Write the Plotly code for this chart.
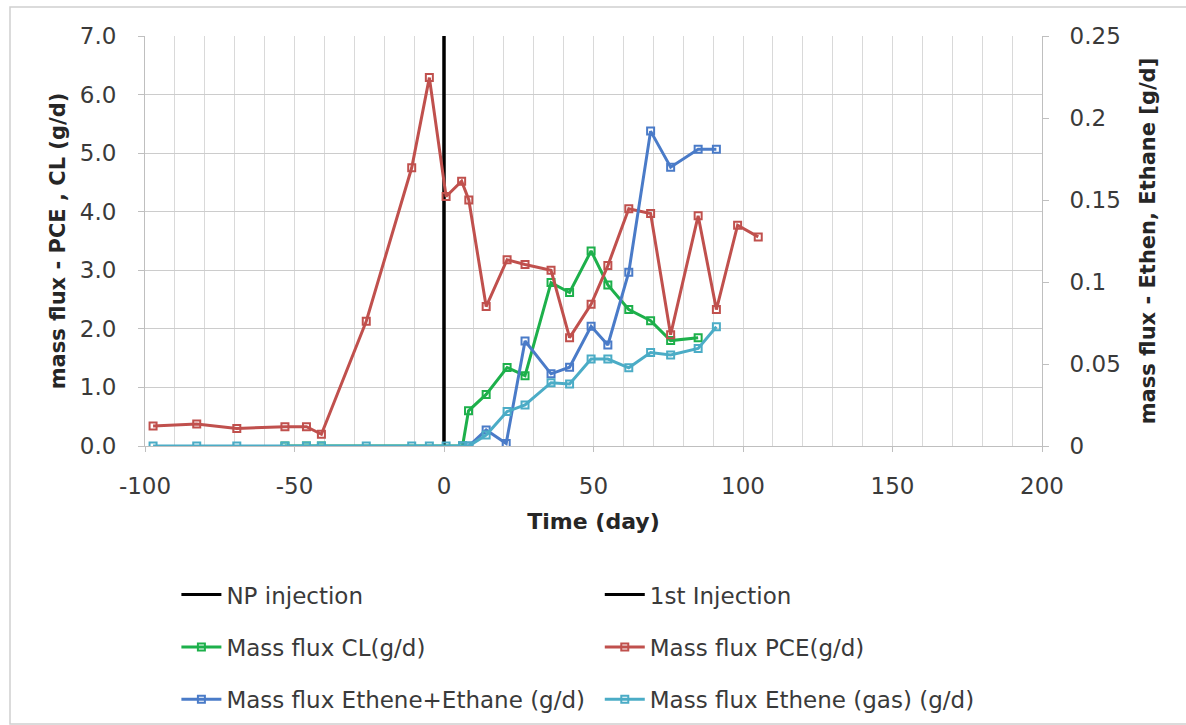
import plotly.graph_objects as go

# ---- data ----
pce_day = [-97.3, -82.7, -69.3, -53.2, -46.0, -41.0, -26.0, -10.8, -4.9, 0.7, 5.9, 8.3, 14.1, 21.1, 27.1, 35.8, 42.0, 49.2, 54.8, 61.8, 69.1, 75.8, 85.0, 91.1, 98.2, 105.1]
pce_val = [0.34, 0.375, 0.30, 0.33, 0.33, 0.20, 2.13, 4.75, 6.29, 4.26, 4.52, 4.20, 2.38, 3.18, 3.10, 3.00, 1.85, 2.42, 3.08, 4.05, 3.97, 1.90, 3.93, 2.33, 3.77, 3.57]

cl_day = [-53.2, -46.0, -41.0, 6.2, 8.2, 14.1, 21.1, 27.1, 35.8, 42.0, 49.2, 54.8, 61.8, 69.1, 75.8, 85.0]
cl_val = [0.0, 0.0, 0.0, 0.0, 0.60, 0.88, 1.34, 1.20, 2.79, 2.62, 3.33, 2.75, 2.33, 2.14, 1.80, 1.85]

eth_day = [6.2, 8.3, 14.1, 20.8, 27.1, 35.8, 42.0, 49.2, 54.8, 61.8, 69.1, 75.8, 85.0, 91.1]
eth_val = [0.0, 0.0, 0.0098, 0.0016, 0.064, 0.044, 0.048, 0.073, 0.0616, 0.106, 0.192, 0.170, 0.181, 0.181]

gas_day = [-97.3, -82.7, -69.3, -53.2, -46.0, -41.0, -26.0, -10.8, -4.9, 0.7, 6.2, 8.3, 14.1, 21.1, 27.1, 35.8, 42.0, 49.2, 54.8, 61.8, 69.1, 75.8, 85.0, 91.1]
gas_val = [0, 0, 0, 0, 0, 0, 0, 0, 0, 0, 0, 0, 0.0067, 0.021, 0.025, 0.0386, 0.0378, 0.053, 0.053, 0.0477, 0.057, 0.0555, 0.0595, 0.0727]

inj_day = [0, 0]
inj_val = [0, 7]

x_ticks = [-100, -50, 0, 50, 100, 150, 200]

# ---- styling ----
FONT = "DejaVu Sans"
TXT = "#3a3a3a"
GRID = "#d9d9d9"
C_RED = "#C0504D"
C_GREEN = "#1DB04B"
C_BLUE = "#4A7BC8"
C_CYAN = "#4BACC6"

def series(x, y, name, color, yaxis, legend, group):
    return go.Scatter(
        x=x, y=y, name=name, mode="lines+markers", yaxis=yaxis,
        legend=legend, legendgroup=group,
        line=dict(color=color, width=3),
        marker=dict(symbol="square-open", size=7, color=color, line=dict(width=2)),
    )

fig = go.Figure()
fig.add_trace(go.Scatter(x=inj_day, y=inj_val, name="NP injection", mode="lines",
                         line=dict(color="black", width=3), legend="legend", legendgroup="a"))
fig.add_trace(go.Scatter(x=inj_day, y=inj_val, name="1st Injection", mode="lines",
                         line=dict(color="black", width=3), legend="legend2", legendgroup="b"))
fig.add_trace(series(cl_day, cl_val, "Mass flux CL(g/d)", C_GREEN, "y", "legend", "c"))
fig.add_trace(series(pce_day, pce_val, "Mass flux PCE(g/d)", C_RED, "y", "legend2", "d"))
fig.add_trace(series(eth_day, eth_val, "Mass flux Ethene+Ethane (g/d)", C_BLUE, "y2", "legend", "e"))
fig.add_trace(series(gas_day, gas_val, "Mass flux Ethene (gas) (g/d)", C_CYAN, "y2", "legend2", "f"))

legend_common = dict(
    orientation="v", yanchor="top", xanchor="left",
    font=dict(family=FONT, size=23, color=TXT),
    bgcolor="rgba(0,0,0,0)", tracegroupgap=19.5, itemwidth=40,
)

fig.update_layout(
    width=1186, height=725,
    margin=dict(l=145, r=144, t=36, b=279, autoexpand=False),
    paper_bgcolor="white", plot_bgcolor="white",
    font=dict(family=FONT, color=TXT),
    showlegend=True,
    legend=dict(x=0.035, y=-0.31, **legend_common),
    legend2=dict(x=0.507, y=-0.31, **legend_common),
    xaxis=dict(
        range=[-100, 200], tickvals=x_ticks, ticktext=[str(v) for v in x_ticks],
        showgrid=True, gridcolor=GRID, gridwidth=1,
        minor=dict(dtick=10, showgrid=True, gridcolor=GRID, gridwidth=1),
        showline=True, linecolor="#bfbfbf", linewidth=1,
        ticks="outside", ticklen=5, tickcolor="#bfbfbf", ticklabelstandoff=14,
        tickfont=dict(family=FONT, size=23, color=TXT),
        title=dict(text="<b>Time (day)</b>", font=dict(family=FONT, size=22, color="#262626"), standoff=16),
        zeroline=False,
    ),
    yaxis=dict(
        range=[0, 7], dtick=1, tickformat=".1f",
        showgrid=True, gridcolor="#cccccc", gridwidth=1,
        showline=True, linecolor="#bfbfbf", linewidth=1,
        ticks="outside", ticklen=6, tickcolor="#bfbfbf", ticklabelstandoff=17,
        tickfont=dict(family=FONT, size=23, color=TXT),
        title=dict(text="<b>mass flux - PCE , CL (g/d)</b>", font=dict(family=FONT, size=21, color="#262626"), standoff=8),
        zeroline=False,
    ),
    yaxis2=dict(
        range=[0, 0.25], dtick=0.05, overlaying="y", side="right",
        showgrid=False, showline=True, linecolor="#bfbfbf", linewidth=1,
        ticks="outside", ticklen=6, tickcolor="#bfbfbf", ticklabelstandoff=16,
        tickfont=dict(family=FONT, size=23, color=TXT),
        title=dict(text="<b>mass flux - Ethen, Ethane [g/d]</b>", font=dict(family=FONT, size=21, color="#262626"), standoff=20),
        zeroline=False,
    ),
    shapes=[dict(type="rect", xref="paper", yref="paper",
                 x0=-0.1505, x1=1.2, y0=-0.678, y1=1.0707,
                 line=dict(color="#d0d0d0", width=1.5), fillcolor="rgba(0,0,0,0)", layer="below")],
)

fig.write_html("out.html")
